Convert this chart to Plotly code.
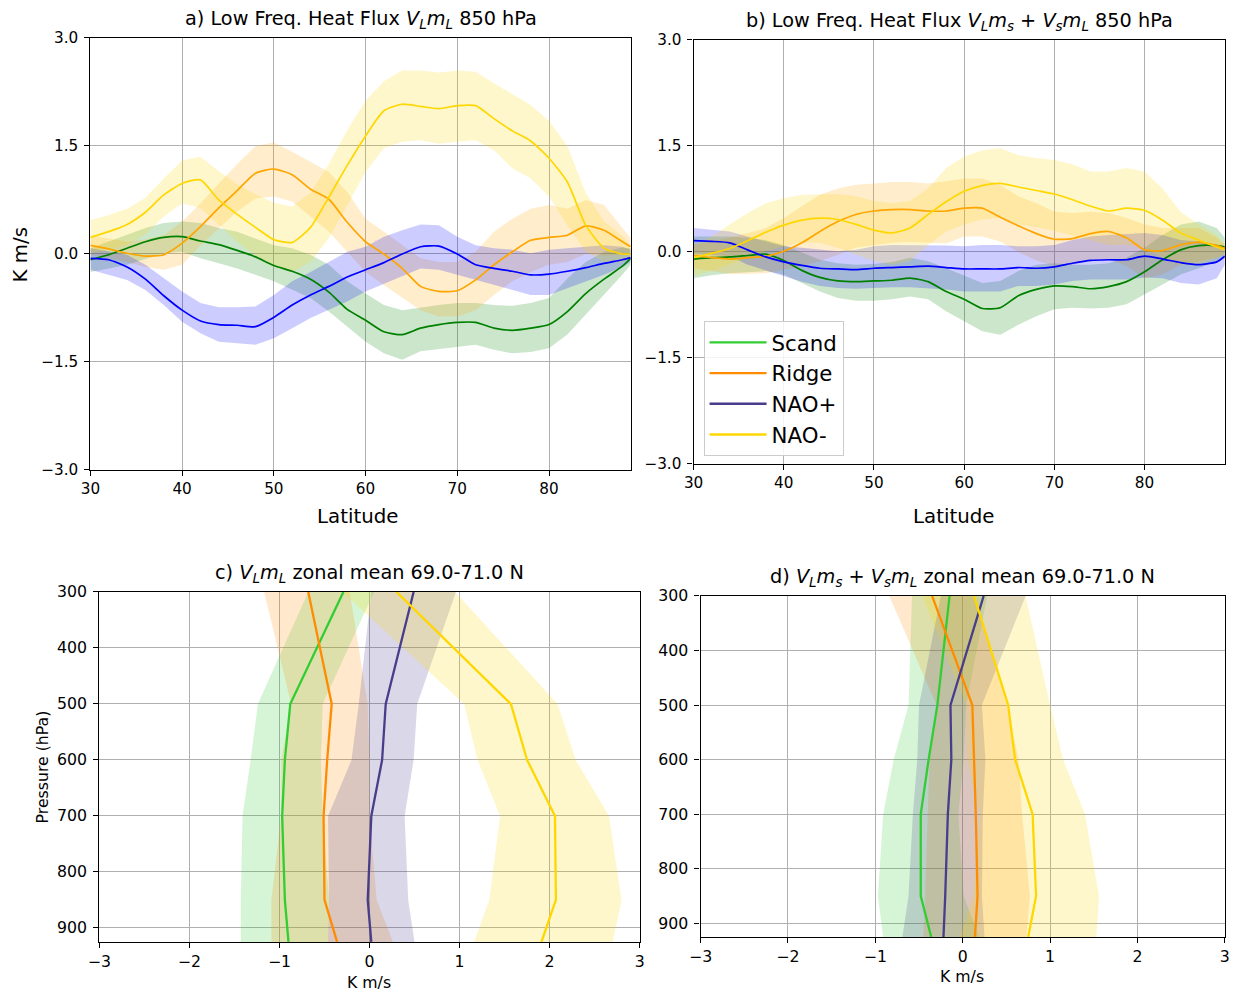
import plotly.graph_objects as go

# ---------------- data ----------------
lat = [30, 32, 34, 36, 38, 40, 42, 44, 46, 48, 50, 52, 54, 56, 58, 60, 62, 64, 66, 68,
       70, 72, 74, 76, 78, 80, 82, 84, 86, 88, 88.9]

# panel a) V_L m_L 850 hPa
a_scand = [-0.08, -0.01, 0.08, 0.17, 0.23, 0.24, 0.18, 0.13, 0.05, -0.04, -0.16, -0.24, -0.35, -0.53, -0.77,
           -0.92, -1.08, -1.12, -1.03, -0.98, -0.95, -0.95, -1.03, -1.06, -1.03, -0.98, -0.80, -0.55, -0.35, -0.17, -0.06]
a_scand_hi = [0.08, 0.17, 0.26, 0.36, 0.43, 0.45, 0.43, 0.36, 0.31, 0.22, 0.12, 0.08, -0.01, -0.15, -0.38,
              -0.55, -0.71, -0.78, -0.74, -0.71, -0.68, -0.68, -0.71, -0.72, -0.68, -0.61, -0.34, -0.11, 0.03, 0.09, 0.08]
a_scand_lo = [-0.25, -0.20, -0.15, -0.07, 0.01, 0.03, -0.06, -0.13, -0.20, -0.29, -0.38, -0.50, -0.61, -0.80, -1.01,
              -1.22, -1.38, -1.47, -1.35, -1.31, -1.29, -1.26, -1.33, -1.38, -1.36, -1.31, -1.12, -0.85, -0.57, -0.29, -0.15]
a_ridge = [0.12, 0.07, 0.01, -0.03, -0.01, 0.15, 0.38, 0.64, 0.88, 1.12, 1.18, 1.10, 0.90, 0.76, 0.44,
           0.17, 0.0, -0.20, -0.45, -0.52, -0.51, -0.36, -0.15, 0.03, 0.19, 0.23, 0.26, 0.39, 0.33, 0.17, 0.10]
a_ridge_hi = [0.26, 0.22, 0.17, 0.20, 0.26, 0.45, 0.70, 0.98, 1.25, 1.50, 1.55, 1.42, 1.28, 1.14, 0.86,
              0.49, 0.31, 0.12, -0.06, -0.11, -0.11, 0.03, 0.31, 0.49, 0.63, 0.68, 0.63, 0.75, 0.68, 0.36, 0.22]
a_ridge_lo = [-0.01, -0.06, -0.11, -0.18, -0.22, -0.15, 0.12, 0.36, 0.59, 0.77, 0.80, 0.73, 0.52, 0.31, 0.03,
              -0.25, -0.43, -0.61, -0.78, -0.87, -0.87, -0.78, -0.57, -0.38, -0.25, -0.15, -0.11, 0.0, -0.02, -0.01, 0.03]
a_naop = [-0.06, -0.08, -0.18, -0.35, -0.58, -0.78, -0.93, -0.98, -0.99, -1.01, -0.88, -0.71, -0.57, -0.45, -0.32,
          -0.22, -0.12, 0.0, 0.10, 0.11, 0.0, -0.15, -0.20, -0.24, -0.29, -0.28, -0.24, -0.19, -0.13, -0.08, -0.05]
a_naop_hi = [0.08, 0.04, -0.01, -0.15, -0.34, -0.52, -0.68, -0.74, -0.74, -0.73, -0.57, -0.38, -0.25, -0.11, 0.03,
             0.10, 0.24, 0.33, 0.41, 0.40, 0.24, 0.12, 0.08, 0.06, 0.01, 0.06, 0.08, 0.10, 0.12, 0.10, 0.06]
a_naop_lo = [-0.22, -0.29, -0.36, -0.50, -0.71, -0.94, -1.10, -1.22, -1.24, -1.26, -1.17, -1.03, -0.89, -0.78, -0.66,
             -0.52, -0.41, -0.31, -0.20, -0.22, -0.29, -0.36, -0.43, -0.50, -0.57, -0.57, -0.48, -0.38, -0.29, -0.18, -0.11]
a_naom = [0.23, 0.31, 0.41, 0.58, 0.82, 0.98, 1.03, 0.75, 0.55, 0.37, 0.20, 0.16, 0.37, 0.79, 1.23,
          1.64, 1.99, 2.08, 2.05, 2.02, 2.06, 2.06, 1.88, 1.71, 1.57, 1.33, 1.00, 0.40, 0.08, 0.0, 0.0]
a_naom_hi = [0.47, 0.54, 0.63, 0.78, 1.05, 1.30, 1.35, 1.15, 0.97, 0.83, 0.71, 0.66, 0.85, 1.25, 1.72,
             2.13, 2.40, 2.55, 2.55, 2.52, 2.55, 2.53, 2.37, 2.22, 2.07, 1.85, 1.50, 0.85, 0.45, 0.25, 0.12]
a_naom_lo = [0.01, 0.06, 0.13, 0.27, 0.52, 0.70, 0.64, 0.40, 0.17, -0.02, -0.18, -0.25, -0.11, 0.22, 0.68,
             1.14, 1.47, 1.56, 1.58, 1.53, 1.56, 1.58, 1.44, 1.19, 1.05, 0.80, 0.40, 0.03, -0.11, -0.11, -0.06]

# panel b) V_L m_s + V_s m_L 850 hPa
b_scand = [-0.10, -0.08, -0.07, -0.05, -0.03, -0.12, -0.26, -0.36, -0.41, -0.42, -0.41, -0.40, -0.37, -0.42, -0.56,
           -0.67, -0.80, -0.79, -0.62, -0.53, -0.48, -0.49, -0.52, -0.49, -0.42, -0.28, -0.11, 0.03, 0.09, 0.09, 0.07]
b_scand_hi = [0.22, 0.22, 0.22, 0.20, 0.17, 0.10, -0.01, -0.11, -0.16, -0.18, -0.17, -0.14, -0.08, -0.13, -0.23,
              -0.34, -0.44, -0.41, -0.27, -0.18, -0.16, -0.18, -0.18, -0.16, -0.08, 0.06, 0.24, 0.39, 0.43, 0.34, 0.20]
b_scand_lo = [-0.37, -0.33, -0.30, -0.28, -0.27, -0.32, -0.44, -0.56, -0.65, -0.69, -0.69, -0.67, -0.63, -0.67, -0.84,
              -0.98, -1.12, -1.17, -1.03, -0.91, -0.81, -0.79, -0.80, -0.79, -0.74, -0.60, -0.46, -0.32, -0.23, -0.13, -0.06]
b_ridge = [-0.05, -0.08, -0.10, -0.08, -0.06, 0.01, 0.13, 0.29, 0.43, 0.53, 0.58, 0.60, 0.60, 0.58, 0.58,
           0.62, 0.62, 0.49, 0.37, 0.26, 0.18, 0.19, 0.26, 0.29, 0.20, 0.03, 0.02, 0.10, 0.14, 0.09, 0.05]
b_ridge_hi = [0.10, 0.15, 0.20, 0.27, 0.34, 0.48, 0.64, 0.81, 0.90, 0.95, 0.97, 0.99, 0.99, 0.97, 1.00,
              1.04, 1.04, 0.95, 0.79, 0.69, 0.57, 0.55, 0.57, 0.55, 0.48, 0.39, 0.34, 0.34, 0.34, 0.20, 0.10]
b_ridge_lo = [-0.23, -0.27, -0.31, -0.31, -0.30, -0.25, -0.20, -0.13, -0.04, 0.06, 0.10, 0.13, 0.14, 0.13, 0.12,
              0.22, 0.22, 0.15, 0.0, -0.12, -0.20, -0.18, -0.12, -0.10, -0.20, -0.37, -0.32, -0.18, -0.13, -0.08, -0.04]
b_naop = [0.16, 0.15, 0.13, 0.03, -0.07, -0.14, -0.19, -0.23, -0.24, -0.25, -0.23, -0.22, -0.21, -0.20, -0.22,
          -0.24, -0.24, -0.24, -0.22, -0.23, -0.21, -0.16, -0.12, -0.11, -0.11, -0.06, -0.10, -0.15, -0.18, -0.14, -0.06]
b_naop_hi = [0.34, 0.32, 0.29, 0.22, 0.15, 0.08, 0.06, 0.03, 0.01, 0.03, 0.08, 0.10, 0.10, 0.10, 0.09,
             0.08, 0.10, 0.10, 0.08, 0.08, 0.10, 0.17, 0.22, 0.24, 0.25, 0.27, 0.24, 0.17, 0.15, 0.10, 0.06]
b_naop_lo = [-0.03, -0.04, -0.06, -0.18, -0.27, -0.34, -0.42, -0.48, -0.51, -0.52, -0.51, -0.50, -0.50, -0.51, -0.53,
             -0.56, -0.56, -0.56, -0.48, -0.48, -0.46, -0.41, -0.39, -0.39, -0.39, -0.36, -0.37, -0.44, -0.46, -0.37, -0.18]
b_naom = [-0.08, -0.02, 0.05, 0.16, 0.28, 0.38, 0.45, 0.48, 0.46, 0.39, 0.31, 0.27, 0.34, 0.53, 0.71,
          0.86, 0.94, 0.97, 0.92, 0.87, 0.82, 0.74, 0.65, 0.58, 0.62, 0.59, 0.45, 0.27, 0.17, 0.07, 0.03]
b_naom_hi = [0.10, 0.22, 0.39, 0.55, 0.69, 0.76, 0.81, 0.82, 0.82, 0.79, 0.72, 0.69, 0.72, 0.90, 1.19,
             1.35, 1.44, 1.47, 1.37, 1.33, 1.30, 1.24, 1.14, 1.14, 1.19, 1.14, 0.90, 0.57, 0.39, 0.24, 0.10]
b_naom_lo = [-0.34, -0.27, -0.18, -0.08, 0.01, 0.08, 0.13, 0.13, 0.06, -0.04, -0.13, -0.18, -0.13, 0.10, 0.29,
             0.39, 0.46, 0.48, 0.39, 0.35, 0.30, 0.24, 0.17, 0.10, 0.10, 0.06, -0.08, -0.18, -0.18, -0.08, -0.04]

# panels c) and d): zonal mean 69.0-71.0 N profiles
lev = [300, 500, 600, 700, 850, 925]
c_scand = [-0.29, -0.88, -0.94, -0.97, -0.94, -0.90]
c_scand_lo = [-0.68, -1.24, -1.32, -1.41, -1.43, -1.43]
c_scand_hi = [0.05, -0.52, -0.54, -0.52, -0.45, -0.46]
c_ridge = [-0.68, -0.42, -0.47, -0.51, -0.50, -0.36]
c_ridge_lo = [-1.17, -0.87, -0.98, -0.98, -1.09, -1.09]
c_ridge_hi = [-0.22, -0.02, 0.0, 0.0, 0.08, 0.26]
c_naop = [0.49, 0.18, 0.14, 0.02, -0.02, 0.02]
c_naop_lo = [0.02, -0.12, -0.20, -0.46, -0.45, -0.46]
c_naop_hi = [0.96, 0.53, 0.49, 0.39, 0.43, 0.50]
c_naom = [0.30, 1.57, 1.75, 2.06, 2.07, 1.91]
c_naom_lo = [-0.30, 1.05, 1.20, 1.45, 1.33, 1.16]
c_naom_hi = [0.95, 2.09, 2.29, 2.66, 2.80, 2.70]

d_scand = [-0.15, -0.29, -0.39, -0.48, -0.48, -0.36]
d_scand_lo = [-0.58, -0.62, -0.79, -0.91, -0.97, -0.91]
d_scand_hi = [0.28, 0.04, 0.01, -0.05, 0.01, 0.19]
d_ridge = [-0.35, 0.11, 0.13, 0.15, 0.17, 0.14]
d_ridge_lo = [-0.84, -0.30, -0.38, -0.40, -0.43, -0.45]
d_ridge_hi = [0.14, 0.50, 0.64, 0.68, 0.77, 0.73]
d_naop = [0.24, -0.14, -0.13, -0.17, -0.20, -0.22]
d_naop_lo = [-0.25, -0.50, -0.52, -0.57, -0.62, -0.69]
d_naop_hi = [0.72, 0.22, 0.26, 0.23, 0.22, 0.25]
d_naom = [0.13, 0.52, 0.60, 0.80, 0.84, 0.75]
d_naom_lo = [-0.46, 0.04, 0.05, 0.20, 0.12, -0.03]
d_naom_hi = [0.72, 1.00, 1.15, 1.40, 1.56, 1.53]

names = ["Scand", "Ridge", "NAO+", "NAO-"]
top_colors = ["#008000", "#FFA500", "#0000FF", "#FFD700"]
bot_colors = ["#32CD32", "#FF8C00", "#483D8B", "#FFD700"]

W, H = 1236, 996
# photographed picture = SX*page + CX (x), SY*page + CY (y); place things so the picture matches
SX, CX = 0.9876, 10.5
SY, CY = 0.982, 8.0
FS = 1 / 0.985   # font scale compensation
FONT = "DejaVu Sans"


def rgba(hexc, a):
    h = hexc.lstrip("#")
    return "rgba(%d,%d,%d,%.2f)" % (int(h[0:2], 16), int(h[2:4], 16), int(h[4:6], 16), a)


fig = go.Figure()


def add_top(xa, ya, series):
    for (line, lo, hi), col in zip(series, top_colors):
        fig.add_trace(go.Scatter(x=lat + lat[::-1], y=hi + lo[::-1], fill="toself",
                                 fillcolor=rgba(col, 0.2), line=dict(width=0), mode="lines",
                                 hoverinfo="skip", showlegend=False, xaxis=xa, yaxis=ya))
    for (line, lo, hi), col, nm in zip(series, top_colors, names):
        fig.add_trace(go.Scatter(x=lat, y=line, mode="lines",
                                 line=dict(color=col, width=1.7, shape="spline", smoothing=0.6),
                                 name=nm, showlegend=False, xaxis=xa, yaxis=ya))


def add_bot(xa, ya, series, legend):
    for (line, lo, hi), col in zip(series, bot_colors):
        fig.add_trace(go.Scatter(x=hi + lo[::-1], y=lev + lev[::-1], fill="toself",
                                 fillcolor=rgba(col, 0.2), line=dict(width=0), mode="lines",
                                 hoverinfo="skip", showlegend=False, xaxis=xa, yaxis=ya))
    for (line, lo, hi), col, nm in zip(series, bot_colors, names):
        fig.add_trace(go.Scatter(x=line, y=lev, mode="lines", line=dict(color=col, width=2.3),
                                 name=nm, showlegend=legend, xaxis=xa, yaxis=ya))


add_top("x", "y", [(a_scand, a_scand_lo, a_scand_hi), (a_ridge, a_ridge_lo, a_ridge_hi),
                   (a_naop, a_naop_lo, a_naop_hi), (a_naom, a_naom_lo, a_naom_hi)])
add_top("x2", "y2", [(b_scand, b_scand_lo, b_scand_hi), (b_ridge, b_ridge_lo, b_ridge_hi),
                     (b_naop, b_naop_lo, b_naop_hi), (b_naom, b_naom_lo, b_naom_hi)])
add_bot("x3", "y3", [(c_scand, c_scand_lo, c_scand_hi), (c_ridge, c_ridge_lo, c_ridge_hi),
                     (c_naop, c_naop_lo, c_naop_hi), (c_naom, c_naom_lo, c_naom_hi)], True)
add_bot("x4", "y4", [(d_scand, d_scand_lo, d_scand_hi), (d_ridge, d_ridge_lo, d_ridge_hi),
                     (d_naop, d_naop_lo, d_naop_hi), (d_naom, d_naom_lo, d_naom_hi)], False)


def fx(px):
    return ((px - CX) / SX) / W


def fy(py):
    return 1 - ((py - CY) / SY) / H


def px_x(a, b):
    return [fx(a), fx(b)]


def px_y(top, bottom):
    return [fy(bottom), fy(top)]


axis_common = dict(showline=True, linecolor="black", linewidth=1.2, mirror=True,
                   ticks="outside", ticklen=5, tickcolor="black", tickwidth=1,
                   showgrid=True, gridcolor="#b0b0b0", gridwidth=1, zeroline=False)

top_x = dict(range=[30, 88.9], tickvals=[30, 40, 50, 60, 70, 80], tickfont=dict(size=15 * FS),
             ticklabelstandoff=0, **axis_common)
top_y = dict(range=[-3, 3], tickvals=[-3, -1.5, 0, 1.5, 3], tickformat=".1f",
             tickfont=dict(size=15 * FS), ticklabelstandoff=3, **axis_common)
bot_x = dict(range=[-3, 3], tickvals=[-3, -2, -1, 0, 1, 2, 3], tickfont=dict(size=15.5 * FS),
             ticklabelstandoff=0, **axis_common)
bot_y = dict(range=[925, 300], tickvals=[300, 400, 500, 600, 700, 800, 900],
             tickfont=dict(size=15.5 * FS), ticklabelstandoff=3, **axis_common)

fig.update_layout(
    width=W, height=H,
    margin=dict(l=0, r=0, t=0, b=0),
    paper_bgcolor="white", plot_bgcolor="white",
    font=dict(family=FONT, color="black"),
    xaxis=dict(domain=px_x(89, 630), anchor="y", **top_x),
    yaxis=dict(domain=px_y(37, 469), anchor="x", **top_y),
    xaxis2=dict(domain=px_x(693, 1225), anchor="y2", **top_x),
    yaxis2=dict(domain=px_y(39, 463), anchor="x2", **top_y),
    xaxis3=dict(domain=px_x(98, 639), anchor="y3", **bot_x),
    yaxis3=dict(domain=px_y(591, 941), anchor="x3", **bot_y),
    xaxis4=dict(domain=px_x(700, 1225), anchor="y4", **bot_x),
    yaxis4=dict(domain=px_y(595, 936), anchor="x4", **bot_y),
    legend=dict(x=fx(703), y=fy(320), xanchor="left", yanchor="top",
                bgcolor="rgba(255,255,255,0.85)", bordercolor="#cccccc", borderwidth=1,
                font=dict(size=21 * FS, family=FONT), traceorder="normal", itemwidth=57),
    showlegend=True,
)


def ann(text, xpx, ypx, size, angle=0):
    fig.add_annotation(text=text, x=fx(xpx), y=fy(ypx), xref="paper", yref="paper",
                       showarrow=False, xanchor="center", yanchor="middle",
                       font=dict(size=size * FS, family=FONT, color="black"), textangle=angle)


ann("a) Low Freq. Heat Flux <i>V<sub>L</sub>m<sub>L</sub></i> 850 hPa", 359.5, 19, 19)
ann("b) Low Freq. Heat Flux <i>V<sub>L</sub>m<sub>s</sub></i> + <i>V<sub>s</sub>m<sub>L</sub></i> 850 hPa", 959, 21, 19)
ann("c) <i>V<sub>L</sub>m<sub>L</sub></i> zonal mean 69.0-71.0 N", 368.5, 573, 19)
ann("d) <i>V<sub>L</sub>m<sub>s</sub></i> + <i>V<sub>s</sub>m<sub>L</sub></i> zonal mean 69.0-71.0 N", 962.5, 577, 19)
ann("K m/s", 19, 253, 19.5, -90)
ann("Latitude", 356, 516, 19.5)
ann("Latitude", 953, 516, 19.5)
ann("Pressure (hPa)", 41, 766, 15.5, -90)
ann("K m/s", 368, 982, 15.5)
ann("K m/s", 962, 976, 15.5)

fig.write_html("out.html", config={"displayModeBar": False},
               post_script="document.body.style.margin='0px';")
